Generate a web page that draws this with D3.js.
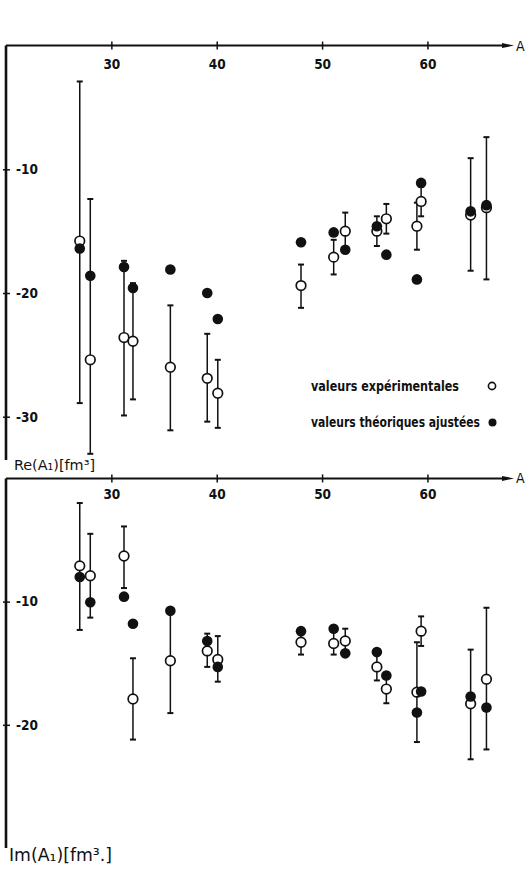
<!DOCTYPE html>
<html>
<head>
<meta charset="utf-8">
<script src="https://cdn.jsdelivr.net/npm/d3@7"></script>
<style>
  body { margin: 0; background: #fff; }
  svg text { font-family: "DejaVu Sans Condensed", "DejaVu Sans", sans-serif; fill: #111; }
</style>
</head>
<body>
<div id="chart"></div>
<script>
// mass number A of each nucleus
const massA = [27, 28, 31.2, 32.05, 35.6, 39.1, 40.1, 48, 51.1, 52.2, 55.2, 56.1, 59.0, 59.4, 64.1, 65.6];

// Re(A1) [fm3] : experimental value, error bar ends, fitted theory
const reExp   = [-15.8, -25.4, -23.6, -23.9, -26.0, -26.9, -28.1, -19.4, -17.1, -15.0, -15.0, -14.0, -14.6, -12.6, -13.7, -13.1];
const reLow   = [-28.9, -33.0, -29.9, -28.6, -31.1, -30.4, -30.9, -21.2, -18.5, -16.4, -16.2, -15.2, -16.5, -13.8, -18.2, -18.9];
const reHigh  = [-2.9, -12.4, -17.4, -19.2, -21.0, -23.3, -25.4, -17.7, -15.7, -13.5, -13.8, -12.8, -12.7, -11.4, -9.1, -7.4];
const reFit   = [-16.4, -18.6, -17.9, -19.6, -18.1, -20.0, -22.1, -15.9, -15.1, -16.5, -14.6, -16.9, -18.9, -11.1, -13.4, -12.9];

// Im(A1) [fm3]
const imExp   = [-7.1, -7.9, -6.3, -17.9, -14.8, -14.0, -14.7, -13.3, -13.4, -13.2, -15.3, -17.1, -17.35, -12.4, -18.3, -16.3];
const imLow   = [-12.3, -11.3, -8.9, -21.2, -19.05, -15.3, -16.5, -14.3, -14.3, -14.2, -16.4, -18.25, -21.4, -13.6, -22.8, -22.0];
const imHigh  = [-2.0, -4.5, -3.9, -14.6, -10.6, -12.6, -12.8, -12.3, -12.4, -12.2, -14.2, -16.0, -13.3, -11.2, -13.9, -10.5];
const imFit   = [-8.0, -10.05, -9.6, -11.8, -10.75, -13.2, -15.3, -12.4, -12.2, -14.2, -14.1, -16.0, -19.0, -17.3, -17.7, -18.6];

const xTicks = [30, 40, 50, 60];
const reTicks = [-10, -20, -30];
const imTicks = [-10, -20];

const width = 527, height = 869;

const svg = d3.select("#chart").append("svg")
  .attr("width", width)
  .attr("height", height);

var x = d3.scaleLinear().domain([20, 68.5]).range([6, 517]);
var yRe = d3.scaleLinear().domain([0, -33.5]).range([45.6, 460]);
var yIm = d3.scaleLinear().domain([0, -30]).range([478.4, 848]);

function panel(y, exp, lo, hi, fit, yTicks, labelPad) {
  const g = svg.append("g");
  const y0 = y(0);

  // horizontal axis with arrow
  g.append("line")
    .attr("x1", x.range()[0]).attr("x2", 506)
    .attr("y1", y0).attr("y2", y0)
    .attr("stroke", "#111").attr("stroke-width", 2);
  g.append("path")
    .attr("d", `M502,${y0 - 2.5} L514,${y0} L502,${y0 + 2.5} Z`)
    .attr("fill", "#111");
  g.append("text")
    .attr("x", 516).attr("y", y0 + 5)
    .attr("font-size", 14)
    .text("A");

  const xa = g.append("g")
    .attr("transform", `translate(0,${y0})`)
    .call(d3.axisBottom(x).tickValues(xTicks).tickSize(4).tickPadding(labelPad));
  xa.attr("font-size", 13.5);
  xa.select(".domain").remove();
  xa.selectAll(".tick line").attr("y1", -4).attr("stroke", "#111").attr("stroke-width", 1.5);
  xa.selectAll(".tick text").attr("font-weight", "bold");

  // vertical axis
  const ya = g.append("g")
    .attr("transform", `translate(${x.range()[0]},0)`)
    .call(d3.axisRight(y).tickValues(yTicks).tickSize(4).tickPadding(6)
      .tickFormat(d => "-" + Math.abs(d)));
  ya.attr("font-size", 13.5);
  ya.select(".domain").attr("stroke", "#111").attr("stroke-width", 2.6)
    .attr("d", `M0,${y0}V${y.range()[1]}`);
  ya.selectAll(".tick line").attr("x1", -3).attr("stroke", "#111").attr("stroke-width", 1.5);
  ya.selectAll(".tick text").attr("font-weight", "bold");

  // error bars
  const bars = g.append("g").attr("stroke", "#111").attr("stroke-width", 1.5);
  massA.forEach((a, i) => {
    const cx = x(a);
    bars.append("line").attr("x1", cx).attr("x2", cx).attr("y1", y(lo[i])).attr("y2", y(hi[i]));
    [lo[i], hi[i]].forEach(v => {
      bars.append("line").attr("x1", cx - 3).attr("x2", cx + 3).attr("y1", y(v)).attr("y2", y(v))
        .attr("stroke-width", 2);
    });
  });

  // experimental values (open) then fitted values (filled)
  g.append("g").selectAll("circle")
    .data(massA)
    .enter()
    .append("circle")
    .attr("cx", d => x(d))
    .attr("cy", (d, i) => y(exp[i]))
    .attr("r", 4.8)
    .attr("fill", "#fff")
    .attr("stroke", "#111")
    .attr("stroke-width", 1.7);

  g.append("g").selectAll("circle")
    .data(massA)
    .enter()
    .append("circle")
    .attr("cx", d => x(d))
    .attr("cy", (d, i) => y(fit[i]))
    .attr("r", 5.3)
    .attr("fill", "#111");

  return g;
}

panel(yRe, reExp, reLow, reHigh, reFit, reTicks, 10);
panel(yIm, imExp, imLow, imHigh, imFit, imTicks, 7);

// axis titles
svg.append("text")
  .attr("x", 14).attr("y", 470)
  .attr("font-size", 14)
  .attr("textLength", 81).attr("lengthAdjust", "spacingAndGlyphs")
  .text("Re(A\u2081)[fm\u00b3]");
svg.append("text")
  .attr("x", 9).attr("y", 861)
  .attr("font-size", 17)
  .attr("textLength", 103).attr("lengthAdjust", "spacingAndGlyphs")
  .text("Im(A\u2081)[fm\u00b3.]");

// legend
const legend = svg.append("g").attr("font-size", 14).attr("font-weight", "bold");
legend.append("text").attr("x", 311).attr("y", 391)
  .attr("textLength", 148).attr("lengthAdjust", "spacingAndGlyphs")
  .text("valeurs expérimentales");
legend.append("circle").attr("cx", 492).attr("cy", 386).attr("r", 3.6)
  .attr("fill", "#fff").attr("stroke", "#111").attr("stroke-width", 1.6);
legend.append("text").attr("x", 311).attr("y", 427)
  .attr("textLength", 169).attr("lengthAdjust", "spacingAndGlyphs")
  .text("valeurs théoriques ajustées");
legend.append("circle").attr("cx", 492.5).attr("cy", 422.5).attr("r", 4)
  .attr("fill", "#111");
</script>
</body>
</html>
